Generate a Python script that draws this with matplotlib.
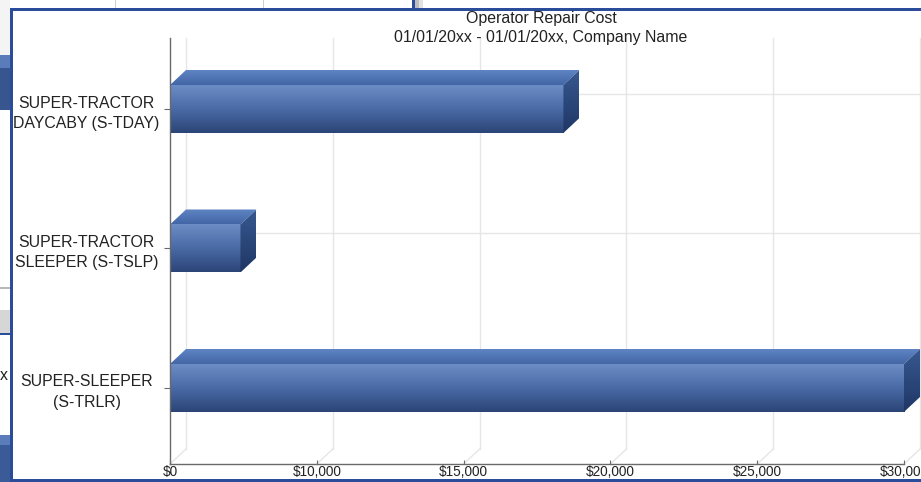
import numpy as np
import matplotlib
matplotlib.use("Agg")
import matplotlib.pyplot as plt
from matplotlib.patches import Rectangle, Polygon
from matplotlib.colors import LinearSegmentedColormap

plt.rcParams['font.family'] = ['Liberation Sans', 'DejaVu Sans']

# ---------------- data ----------------
categories = ["SUPER-TRACTOR\nDAYCABY (S-TDAY)",
              "SUPER-TRACTOR\nSLEEPER (S-TSLP)",
              "SUPER-SLEEPER\n(S-TRLR)"]
values = [18400, 7400, 30000]
tick_values = [5000, 10000, 15000, 20000, 25000, 30000]
tick_labels = ["$0", "$10,000", "$15,000", "$20,000", "$25,000", "$30,000"]
title_line1 = "Operator Repair Cost"
title_line2 = "01/01/20xx - 01/01/20xx, Company Name"

W, H = 921, 482
fig = plt.figure(figsize=(W / 100, H / 100), dpi=100)
fig.patch.set_facecolor("white")


def px_rect(x, y, w, h, color, z=0):
    fig.add_artist(Rectangle((x / W, 1 - (y + h) / H), w / W, h / H,
                             transform=fig.transFigure, facecolor=color,
                             edgecolor="none", zorder=z))


# ------------- background windows (decoration) -------------
px_rect(0, 0, 10, 55, "#f4f4f4")
px_rect(0, 55, 10, 13, "#5a7cba")
px_rect(0, 68, 10, 42, "#37568f")
px_rect(0, 287, 10, 1.5, "#b8b8b8")
px_rect(0, 310, 10, 23, "#d6d6d6")
px_rect(0, 333, 10, 2, "#2b4c9b")
px_rect(0, 435, 10, 10, "#5a7cba")
px_rect(0, 445, 10, 37, "#3a5a98")
px_rect(115, 0, 1, 8, "#cfcfcf")
px_rect(263, 0, 1, 8, "#cfcfcf")
px_rect(412, 0, 2.5, 8, "#2b4c9b")
px_rect(414.5, 0, 4, 8, "#bdbdbd")
px_rect(418.5, 0, 4, 8, "#e2e2e2")
fig.text(4 / W, 1 - 376 / H, "x", fontsize=11.4, ha="center", va="center",
         color="#222222")

# main window border
px_rect(10, 8, W - 10, 2.5, "#2b4c9b", z=5)
px_rect(10, 8, 2.5, 474, "#2b4c9b", z=5)
px_rect(10, 478.5, W - 10, 3.5, "#2b4c9b", z=5)

# ---------------- axes ----------------
ax_l, ax_r, ax_t, ax_b = 170, 904, 38, 464
ax = fig.add_axes([ax_l / W, 1 - ax_b / H, (ax_r - ax_l) / W, (ax_b - ax_t) / H])
ax.set_facecolor("none")
ypos = np.arange(len(categories))[::-1]
xmin, xmax = tick_values[0], tick_values[-1]
ymin, ymax = -0.545, 2.509
ax.set_xlim(xmin, xmax)
ax.set_ylim(ymin, ymax)
ax.autoscale(False)

# depth in data units (16 px right, 15 px up)
dx = 16 * (xmax - xmin) / (ax_r - ax_l)
dy = 15 * (ymax - ymin) / (ax_b - ax_t)

grid_c = "#e6e6e6"
for t in tick_values:
    ax.plot([t, t + dx], [ymin, ymin + dy], color=grid_c, lw=1, zorder=0.5,
            clip_on=False)
    ax.plot([t + dx, t + dx], [ymin + dy, ymax], color=grid_c, lw=1,
            zorder=0.5, clip_on=False)
for y in ypos:
    ax.plot([xmin + dx, xmax + dx], [y + dy, y + dy], color=grid_c, lw=1,
            zorder=0.5, clip_on=False)

front_cmap = LinearSegmentedColormap.from_list(
    "front", ["#2b4577", "#4a6aa6", "#6b8cc4"])
top_cmap = LinearSegmentedColormap.from_list("top", ["#4366a6", "#5e84c3"])
side_cmap = LinearSegmentedColormap.from_list("side", ["#1f3766", "#37588f"])
grad = np.linspace(0, 1, 64).reshape(-1, 1)

bh = 0.344
bars = ax.barh(ypos, [v - xmin for v in values], left=xmin, height=bh,
               color="none", edgecolor="none", zorder=2)
for bar in bars:
    x0, yb = bar.get_x(), bar.get_y()
    x1, yt = x0 + bar.get_width(), yb + bar.get_height()
    # front face
    im = ax.imshow(grad, cmap=front_cmap, origin="lower", aspect="auto",
                   extent=[x0, x1, yb, yt], zorder=2, interpolation="bilinear")
    im.set_clip_path(bar)
    # top face
    top = Polygon([(x0, yt), (x1, yt), (x1 + dx, yt + dy), (x0 + dx, yt + dy)],
                  closed=True, facecolor="none", edgecolor="none",
                  transform=ax.transData)
    ax.add_patch(top)
    top.set_clip_on(False)
    im2 = ax.imshow(grad, cmap=top_cmap, origin="lower", aspect="auto",
                    extent=[x0, x1 + dx, yt, yt + dy], zorder=2.1,
                    interpolation="bilinear")
    im2.set_clip_box(fig.bbox)
    im2.set_clip_path(top)
    # side face
    side = Polygon([(x1, yb), (x1 + dx, yb + dy), (x1 + dx, yt + dy), (x1, yt)],
                   closed=True, facecolor="none", edgecolor="none",
                   transform=ax.transData)
    ax.add_patch(side)
    side.set_clip_on(False)
    im3 = ax.imshow(grad, cmap=side_cmap, origin="lower", aspect="auto",
                    extent=[x1, x1 + dx, yb, yt + dy], zorder=2.1,
                    interpolation="bilinear")
    im3.set_clip_box(fig.bbox)
    im3.set_clip_path(side)

ax.set_xlim(xmin, xmax)
ax.set_ylim(ymin, ymax)

for s in ["top", "right"]:
    ax.spines[s].set_visible(False)
for s in ["left", "bottom"]:
    ax.spines[s].set_color("#6a6a6a")
    ax.spines[s].set_linewidth(1)
    ax.spines[s].set_zorder(3)

ax.set_xticks(tick_values)
ax.set_xticklabels(tick_labels, fontsize=9.8, color="#222222")
ax.tick_params(axis="x", length=3, direction="in", color="#6a6a6a", pad=0.5)
ax.set_yticks(ypos)
ax.set_yticklabels(categories, fontsize=11.4, color="#222222", linespacing=1.45)
ax.tick_params(axis="y", length=4, color="#6a6a6a", pad=56)
for lbl in ax.get_yticklabels():
    lbl.set_ha("center")
    lbl.set_multialignment("center")
    lbl.set_zorder(6)

fig.text(541 / W, 1 - 19 / H, title_line1, fontsize=11.4, ha="center",
         va="center", color="#222222")
fig.text(541 / W, 1 - 37.5 / H, title_line2, fontsize=11.4, ha="center",
         va="center", color="#222222")

fig.savefig("out.png", dpi=100)
